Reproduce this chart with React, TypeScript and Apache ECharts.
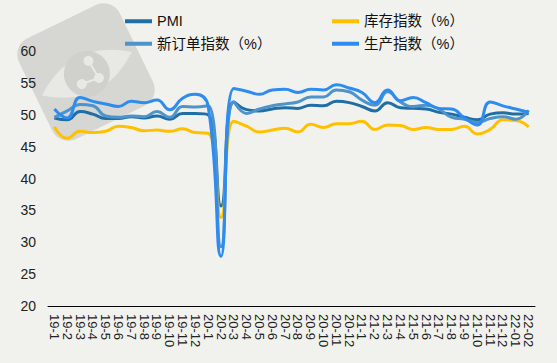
import React, { useEffect, useRef } from "react";
import * as echarts from "echarts";

const categories = [
  "19-1", "19-2", "19-3", "19-4", "19-5", "19-6", "19-7", "19-8", "19-9", "19-10", "19-11", "19-12",
  "20-1", "20-2", "20-3", "20-4", "20-5", "20-6", "20-7", "20-8", "20-9", "20-10", "20-11", "20-12",
  "21-1", "21-2", "21-3", "21-4", "21-5", "21-6", "21-7", "21-8", "21-9", "21-10", "21-11", "21-12",
  "22-01", "22-02",
];

const pmi = [
  49.5, 49.2, 50.5, 50.1, 49.4, 49.4, 49.7, 49.5, 49.8, 49.3, 50.2, 50.2,
  50.0, 35.7, 52.0, 50.8, 50.6, 50.9, 51.1, 51.0, 51.5, 51.4, 52.1, 51.9,
  51.3, 50.6, 51.9, 51.1, 51.0, 50.9, 50.4, 50.1, 49.6, 49.2, 50.1, 50.3,
  50.1, 50.2,
];

const inventory = [
  48.1, 46.3, 47.4, 47.2, 47.4, 48.2, 48.0, 47.5, 47.6, 47.4, 47.8, 47.2,
  47.1, 33.9, 49.0, 48.2, 47.3, 47.6, 47.9, 47.3, 48.5, 48.0, 48.6, 48.6,
  49.0, 47.7, 48.4, 48.3, 47.7, 48.0, 47.7, 47.7, 48.2, 47.0, 47.7, 49.2,
  49.1, 48.1,
];

const newOrders = [
  49.6, 50.6, 51.6, 51.4, 49.8, 49.6, 49.8, 49.7, 50.5, 49.6, 51.3, 51.2,
  51.4, 29.3, 52.0, 50.2, 50.9, 51.4, 51.7, 52.0, 52.8, 52.8, 53.9, 53.6,
  52.3, 51.5, 53.6, 52.0, 51.3, 51.5, 50.9, 49.6, 49.3, 48.8, 49.4, 49.7,
  49.3, 50.7,
];

const production = [
  50.9, 49.5, 52.7, 52.1, 51.7, 51.3, 52.1, 51.9, 52.3, 50.8, 52.6, 53.2,
  51.3, 27.8, 54.1, 53.7, 53.2, 53.9, 54.0, 53.5, 54.0, 53.9, 54.7, 54.2,
  53.5, 51.9, 53.9, 52.2, 52.7, 51.9, 51.0, 50.9, 49.5, 48.4, 52.0, 51.4,
  50.9, 50.4,
];

const seriesNames = ["PMI", "库存指数（%）", "新订单指数（%）", "生产指数（%）"];
const seriesColors = ["#1f6ea6", "#ffc000", "#4d93cc", "#2e8cf0"];

const FONT = "'Liberation Sans', Arial, 'Noto Sans CJK SC', sans-serif";

echarts.graphic.registerShape(
  "eyeShape",
  echarts.graphic.extendPath("M-50,0 Q0,-38 50,0 Q0,38 -50,0 Z", {})
);

export default function App() {
  const ref = useRef<HTMLDivElement>(null);

  useEffect(() => {
    if (!ref.current) return;
    const chart = echarts.init(ref.current, null, { renderer: "svg" });
    const dataList = [pmi, inventory, newOrders, production];

    const legendCommon = {
      orient: "vertical" as const,
      icon: "rect",
      itemWidth: 27,
      itemHeight: 4,
      itemGap: 8,
      textStyle: {
        fontSize: 14.5,
        lineHeight: 14,
        color: "#111",
        fontFamily: FONT,
      },
    };

    chart.setOption({
      animation: false,
      backgroundColor: "#f1f2ee",
      graphic: [
        {
          type: "group",
          x: 86,
          y: 72,
          rotation: 0.45,
          z: -10,
          silent: true,
          children: [
            {
              type: "rect",
              shape: { x: -56, y: -56, width: 112, height: 112, r: 18 },
              style: { fill: "#d6d6d2" },
            },
            {
              type: "eyeShape",
              x: 0,
              y: 2,
              style: { fill: "#e8e8e4" },
            },
            {
              type: "circle",
              shape: { cx: 0, cy: 2, r: 23 },
              style: { fill: "#d0d0cc" },
            },
            {
              type: "line",
              shape: { x1: -9, y1: 9, x2: 9, y2: 11 },
              style: { stroke: "#e8e8e4", lineWidth: 2 },
            },
            {
              type: "line",
              shape: { x1: 9, y1: 11, x2: 7, y2: -9 },
              style: { stroke: "#e8e8e4", lineWidth: 2 },
            },
            {
              type: "circle",
              shape: { cx: -9, cy: 9, r: 5 },
              style: { fill: "#e8e8e4" },
            },
            {
              type: "circle",
              shape: { cx: 9, cy: 11, r: 5 },
              style: { fill: "#e8e8e4" },
            },
            {
              type: "circle",
              shape: { cx: 7, cy: -9, r: 5 },
              style: { fill: "#e8e8e4" },
            },
          ],
        },
      ],
      legend: [
        {
          ...legendCommon,
          left: 120,
          top: 9,
          data: [seriesNames[0], seriesNames[2]],
        },
        {
          ...legendCommon,
          left: 327,
          top: 9,
          data: [seriesNames[1], seriesNames[3]],
        },
      ],
      grid: {
        left: 48,
        right: 22,
        top: 51,
        bottom: 57,
        containLabel: false,
      },
      xAxis: {
        type: "category",
        data: categories,
        boundaryGap: true,
        axisLine: { show: true, lineStyle: { color: "#000", width: 1 } },
        axisTick: { show: false },
        axisLabel: {
          interval: 0,
          rotate: -90,
          margin: 8,
          fontSize: 13,
          color: "#222",
          fontFamily: FONT,
        },
        splitLine: { show: false },
      },
      yAxis: {
        type: "value",
        min: 20,
        max: 60,
        interval: 5,
        axisLine: { show: false },
        axisTick: { show: false },
        splitLine: { show: false },
        axisLabel: {
          margin: 12,
          fontSize: 14,
          color: "#222",
          fontFamily: FONT,
        },
      },
      series: seriesNames.map((name, i) => ({
        name,
        type: "line",
        data: dataList[i],
        smooth: true,
        symbol: "none",
        lineStyle: { width: 3, color: seriesColors[i] },
        itemStyle: { color: seriesColors[i] },
        z: 2 + i,
      })),
    });

    return () => {
      chart.dispose();
    };
  }, []);

  return (
    <div
      ref={ref}
      style={{ width: 557, height: 363, position: "absolute", left: 0, top: 0 }}
    />
  );
}
